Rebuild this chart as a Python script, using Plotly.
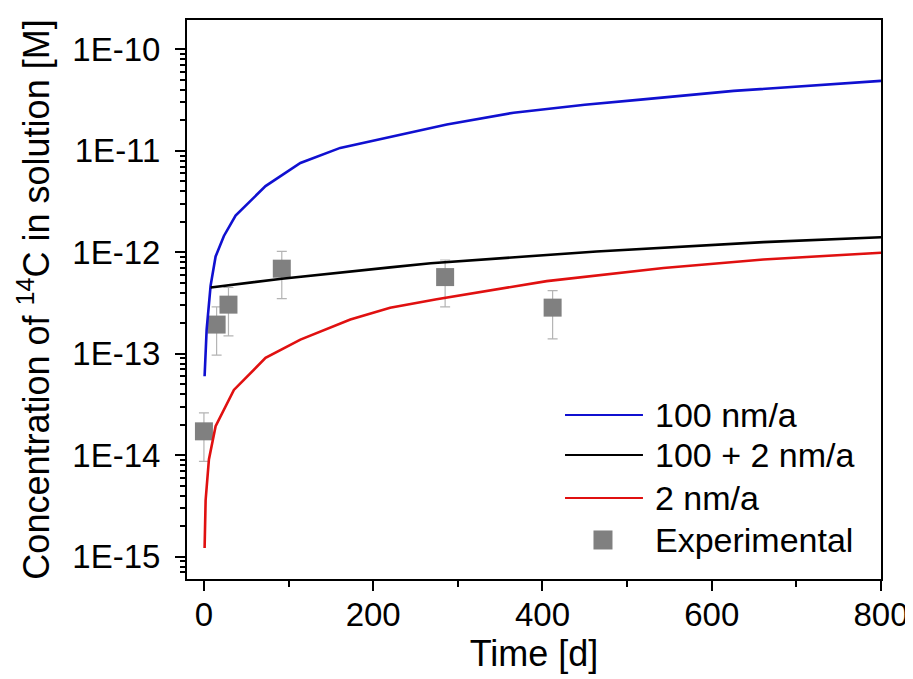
import plotly.graph_objects as go

# ---- data ----
t_100 = [0.8, 3.2, 7.9, 13.8, 23.6, 37.4, 72.8, 114, 161, 215, 287, 366, 450, 516, 626, 800]
c_100 = [6.0e-14, 1.73e-13, 4.7e-13, 9.1e-13, 1.45e-12, 2.3e-12, 4.5e-12, 7.6e-12,
         1.07e-11, 1.35e-11, 1.82e-11, 2.38e-11, 2.85e-11, 3.2e-11, 3.9e-11, 4.9e-11]

t_mix = [8, 92, 220, 268, 464, 661, 800]
c_mix = [4.5e-13, 5.5e-13, 7.1e-13, 7.8e-13, 1.02e-12, 1.26e-12, 1.41e-12]

t_2 = [0.8, 2, 5.9, 13.8, 35.4, 72.8, 114, 173, 220, 275, 405, 543, 661, 800]
c_2 = [1.22e-15, 3.6e-15, 9.1e-15, 1.93e-14, 4.4e-14, 9.1e-14, 1.38e-13, 2.18e-13,
       2.84e-13, 3.45e-13, 5.2e-13, 7.0e-13, 8.5e-13, 9.9e-13]

t_exp = [0, 15, 29, 92, 285, 412]
c_exp = [1.72e-14, 1.94e-13, 3.05e-13, 6.9e-13, 5.7e-13, 2.85e-13]
c_exp_hi = [2.61e-14, 2.9e-13, 4.5e-13, 1.02e-12, 8.4e-13, 4.2e-13]
c_exp_lo = [8.7e-15, 9.7e-14, 1.5e-13, 3.5e-13, 2.9e-13, 1.4e-13]

x_ticks = [0, 200, 400, 600, 800]
y_ticks = [1e-15, 1e-14, 1e-13, 1e-12, 1e-11, 1e-10]
y_ticktext = ["1E-15", "1E-14", "1E-13", "1E-12", "1E-11", "1E-10"]

names = ["100 nm/a", "100 + 2 nm/a", "2 nm/a", "Experimental"]
colors = ["#1010d0", "#000000", "#e01010", "#808080"]

FONT = "Arial, Liberation Sans, sans-serif"
FS_TICK = 33
FS_TITLE = 36
FS_LEG = 34

err_plus = [h - c for h, c in zip(c_exp_hi, c_exp)]
err_minus = [c - l for c, l in zip(c_exp, c_exp_lo)]

fig = go.Figure()
fig.add_trace(go.Scatter(x=t_exp, y=c_exp, mode="markers", name=names[3],
                         marker=dict(symbol="square", size=18, color=colors[3]),
                         error_y=dict(type="data", symmetric=False, array=err_plus,
                                      arrayminus=err_minus, color="#b4b4b4",
                                      thickness=1.2, width=5),
                         showlegend=False))
for tt, cc, nm, col in [(t_100, c_100, names[0], colors[0]),
                        (t_mix, c_mix, names[1], colors[1]),
                        (t_2, c_2, names[2], colors[2])]:
    fig.add_trace(go.Scatter(x=tt, y=cc, mode="lines", name=nm,
                             line=dict(color=col, width=2.6), showlegend=False))

# minor tick positions for log axis
minor_vals = [m * 10.0 ** e for e in range(-16, -9) for m in range(2, 10)]

fig.update_xaxes(range=[-20, 800], tickvals=x_ticks, ticks="outside", ticklen=10,
                 tickwidth=2, tickcolor="black", showline=True, linewidth=2,
                 linecolor="black", mirror=True, showgrid=False, zeroline=False,
                 automargin=False, ticklabelstandoff=-5,
                 tickfont=dict(family=FONT, size=FS_TICK, color="black"),
                 title=dict(text="Time [d]", font=dict(family=FONT, size=FS_TITLE, color="black"),
                            standoff=4),
                 minor=dict(dtick=100, tick0=0, ticks="outside", ticklen=6,
                            tickwidth=2, tickcolor="black", showgrid=False))
fig.update_yaxes(type="log", range=[-15.22, -9.71], tickvals=y_ticks, ticktext=y_ticktext,
                 ticks="outside", ticklen=10, tickwidth=2, tickcolor="black",
                 showline=True, linewidth=2, linecolor="black", mirror=True,
                 showgrid=False, zeroline=False, automargin=False,
                 ticklabelstandoff=8,
                 tickfont=dict(family=FONT, size=FS_TICK, color="black"),
                 title=dict(text="Concentration of <sup>14</sup>C in solution [M]",
                            font=dict(family=FONT, size=FS_TITLE, color="black"), standoff=12),
                 minor=dict(tickvals=minor_vals, ticks="outside", ticklen=5,
                            tickwidth=1.5, tickcolor="black", showgrid=False))

# manual legend (paper coordinates of the plot area)
row_y = [0.2934, 0.2218, 0.1449, 0.0698]
shapes = []
annotations = []
for i in range(3):
    shapes.append(dict(type="line", xref="paper", yref="paper", x0=0.5447, x1=0.657,
                       y0=row_y[i], y1=row_y[i], line=dict(color=colors[i], width=2)))
shapes.append(dict(type="rect", xref="paper", yref="paper",
                   x0=0.5994 - 0.0137, x1=0.5994 + 0.0137,
                   y0=row_y[3] - 0.017, y1=row_y[3] + 0.017,
                   fillcolor=colors[3], line=dict(width=0)))
for i in range(4):
    annotations.append(dict(xref="paper", yref="paper", x=0.6715, y=row_y[i],
                            xanchor="left", yanchor="middle", text=names[i],
                            showarrow=False,
                            font=dict(family=FONT, size=FS_LEG, color="black")))

# the page body adds an 8px offset, so the figure is 8px smaller than the window
fig.update_layout(width=905, height=671, margin=dict(l=179, r=32, t=12, b=100),
                  plot_bgcolor="white", paper_bgcolor="white",
                  shapes=shapes, annotations=annotations,
                  font=dict(family=FONT, size=FS_TICK, color="black"))

fig.write_html("out.html")
